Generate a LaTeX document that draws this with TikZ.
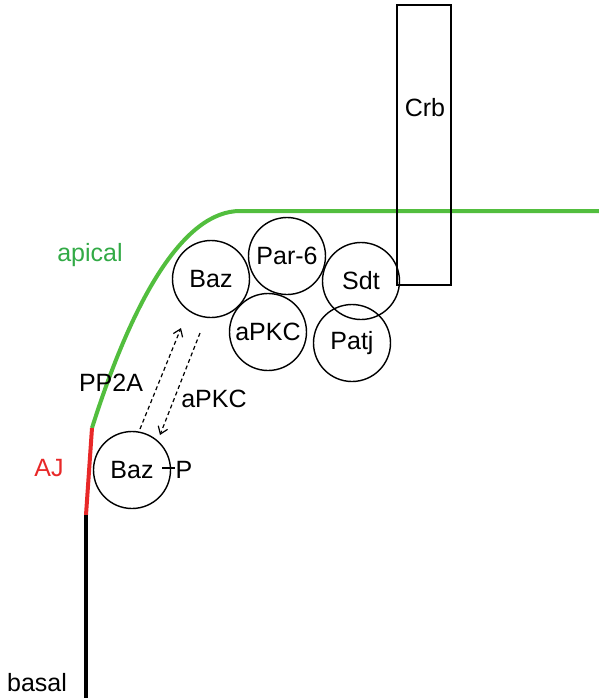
\documentclass[tikz,border=0pt]{standalone}
\usepackage{fontspec}
\setmainfont{Liberation Sans}
\usetikzlibrary{arrows.meta}
\definecolor{apicalgreen}{RGB}{82,190,62}
\definecolor{labelgreen}{RGB}{50,170,70}
\definecolor{ajred}{RGB}{232,40,40}
\begin{document}
\begin{tikzpicture}[x=0.5pt, y=-0.5pt]
        \tikzset{
            protein/.style={circle, draw, line width=0.7pt, inner sep=0pt, minimum size=38.5pt, font=\fontsize{12.5}{15}\selectfont},
            crbbox/.style={rectangle, draw, line width=0.9pt, inner sep=0pt, minimum width=27pt, minimum height=140pt},
            tag/.style={inner sep=0pt, font=\fontsize{12.5}{15}\selectfont},
            swap/.style={-{Straight Barb[length=3.5pt, width=5pt]}, dash pattern=on 2pt off 1.5pt, line width=0.6pt}
        }
        \useasboundingbox (0,0) rectangle (599,698);

        % Membrane
        \draw[apicalgreen, line width=2pt] (599,211) -- (240,211)
            .. controls (185,211) and (134,295) .. (92,428);
        \draw[ajred, line width=2pt] (92,428) -- (86,515);
        \draw[black, line width=2pt] (86,515) -- (86,698);

        % Nodes
        \node[crbbox] (crb) at (424,145) {};
        \node[tag] at (425,108) {Crb};
        \node[protein] (baz) at (211,279) {Baz};
        \node[protein] (par6) at (287,256) {Par-6};
        \node[protein] (apkc) at (268,332) {aPKC};
        \node[protein] (sdt) at (361,281) {Sdt};
        \node[protein] (patj) at (352,343) {Patj};
        \node[protein] (bazp) at (132,470) {Baz};
        \node[tag] (pmark) at (184,470) {P};

        % Labels
        \node[tag, text=labelgreen] at (90,255) {apical};
        \node[tag, text=ajred] at (49,468) {AJ};
        \node[tag] at (37,683) {basal};
        \node[tag] at (111,383) {PP2A};
        \node[tag] at (214,399) {aPKC};

        % Edges
        \coordinate (up0) at (140,429);
        \coordinate (up1) at (181,328);
        \coordinate (dn0) at (200,333);
        \coordinate (dn1) at (160,435);
        \draw[swap] (up0) -- (up1);
        \draw[swap] (dn0) -- (dn1);
        \draw[line width=0.7pt] (bazp.east) ++(-9,-2) -- ([yshift=1pt]pmark.west);
    \end{tikzpicture}
\end{document}
